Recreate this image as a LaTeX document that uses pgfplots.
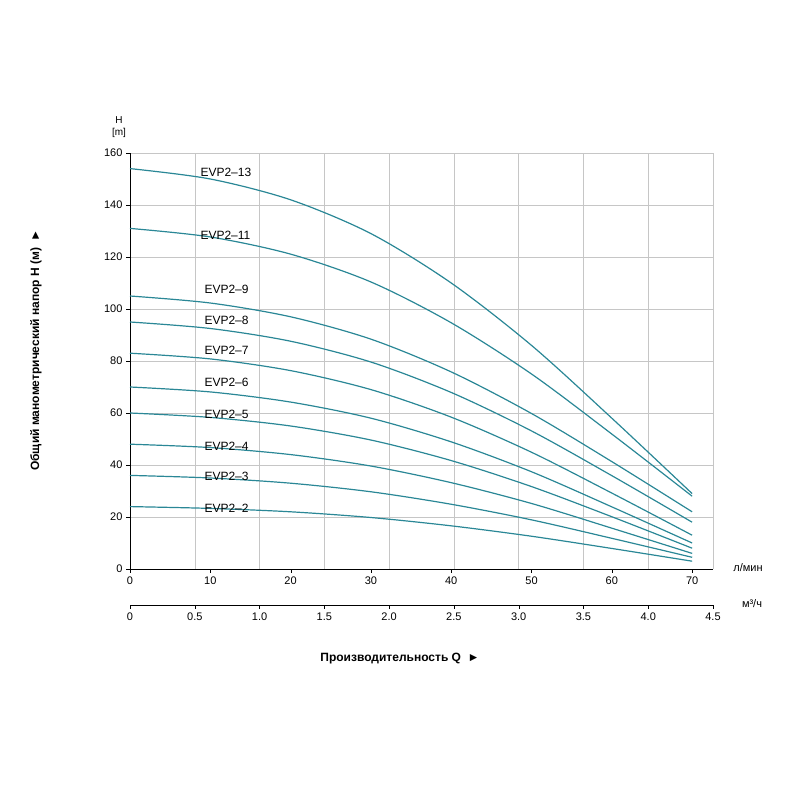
\documentclass[border=0pt]{standalone}
\usepackage{pgfplots}
\pgfplotsset{compat=1.18}
\usepackage{fontspec}
\setmainfont{Liberation Sans}
\definecolor{cv}{HTML}{2A8796}
\tikzset{cc/.style={draw=cv,line width=1.2pt,smooth,solid,no markers}}
\begin{document}
\begin{tikzpicture}
\path (0pt,0pt) rectangle (800pt,800pt);
\begin{axis}[at={(130pt,231pt)},anchor=south west,scale only axis,width=583pt,height=416pt,
 xmin=0,xmax=72.6,ymin=0,ymax=160,
 axis x line*=bottom, axis y line*=left, axis line style={-,black,line width=0.8pt},
 xtick={0,10,...,70}, ytick={0,20,...,160},
 extra x ticks={8.065,16.13,24.195,32.26,40.325,48.39,56.455,64.52,72.6},
 extra x tick labels={}, extra x tick style={grid=major,major grid style={gray!45},tick style={draw=none}},
 ymajorgrids, major grid style={gray!45},
 tick align=outside, major tick length=4pt, tick style={black},
 ticklabel style={font=\fontsize{11}{13}\selectfont},
 /pgf/number format/assume math mode=true,
 clip=false]
\addplot[cc] coordinates {(0,154)(10,150)(20,142)(30,129)(40,110)(50,86)(60,58)(70,29)};
\addplot[cc] coordinates {(0,131)(10,127.7)(20,121.1)(30,110.4)(40,94.7)(50,75)(60,51.9)(70,28)};
\addplot[cc] coordinates {(0,105)(10,102.3)(20,97)(30,88.4)(40,75.8)(50,59.8)(60,41.3)(70,22)};
\addplot[cc] coordinates {(0,95)(10,92.5)(20,87.6)(30,79.6)(40,67.9)(50,53.1)(60,35.9)(70,18)};
\addplot[cc] coordinates {(0,83)(10,80.8)(20,76.3)(30,69)(40,58.4)(50,44.9)(60,29.2)(70,13)};
\addplot[cc] coordinates {(0,70)(10,68.1)(20,64.2)(30,58)(40,48.9)(50,37.4)(60,23.9)(70,10)};
\addplot[cc] coordinates {(0,60)(10,58.3)(20,55)(30,49.6)(40,41.7)(50,31.7)(60,20.1)(70,8)};
\addplot[cc] coordinates {(0,48)(10,46.7)(20,44)(30,39.6)(40,33.2)(50,25.2)(60,15.7)(70,6)};
\addplot[cc] coordinates {(0,36)(10,35)(20,33)(30,29.7)(40,24.9)(50,18.9)(60,11.8)(70,4.5)};
\addplot[cc] coordinates {(0,24)(10,23.3)(20,22)(30,19.8)(40,16.6)(50,12.6)(60,7.9)(70,3)};
\end{axis}
\begin{axis}[at={(130pt,195pt)},anchor=south west,scale only axis,width=583pt,height=1pt,
 xmin=0,xmax=4.5,ymin=0,ymax=1,hide y axis,axis x line*=bottom,axis line style={-,black,line width=0.8pt},
 xtick={0,0.5,...,4.5},xticklabels={0,0.5,1.0,1.5,2.0,2.5,3.0,3.5,4.0,4.5},
 tick align=outside, major tick length=4pt, tick style={black},
 ticklabel style={font=\fontsize{11}{13}\selectfont}]
\end{axis}
\begin{scope}[font=\fontsize{12}{14}\selectfont]
\node[anchor=west] at (197pt,628pt) {EVP2–13};
\node[anchor=west] at (197pt,565pt) {EVP2–11};
\node[anchor=west] at (201pt,511pt) {EVP2–9};
\node[anchor=west] at (201pt,480pt) {EVP2–8};
\node[anchor=west] at (201pt,450pt) {EVP2–7};
\node[anchor=west] at (201pt,418pt) {EVP2–6};
\node[anchor=west] at (201pt,386pt) {EVP2–5};
\node[anchor=west] at (201pt,354pt) {EVP2–4};
\node[anchor=west] at (201pt,324pt) {EVP2–3};
\node[anchor=west] at (201pt,292pt) {EVP2–2};
\end{scope}
\node[font=\fontsize{10}{12}\selectfont,align=center] at (119pt,673pt) {H\\{[m]}};
\node[font=\fontsize{11}{13}\selectfont] at (748pt,232pt) {л/мин};
\node[font=\fontsize{11}{13}\selectfont] at (752pt,196pt) {м³/ч};
\node[font=\bfseries\fontsize{12}{14}\selectfont] at (400pt,141pt) {Производительность Q \ ►};
\node[font=\bfseries\fontsize{12}{14}\selectfont,rotate=90] at (36pt,450pt) {Общий манометрический напор H (м) \ ►};
\end{tikzpicture}
\end{document}
